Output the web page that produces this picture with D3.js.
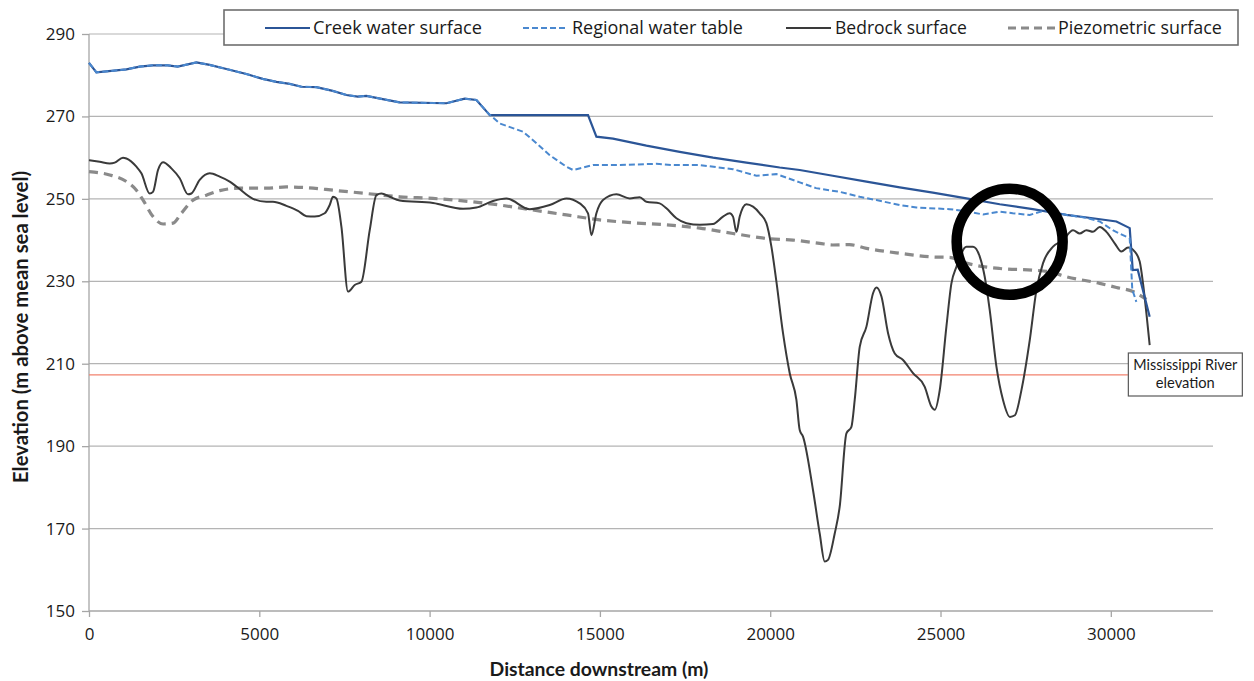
<!DOCTYPE html>
<html>
<head>
<meta charset="utf-8">
<script src="https://cdn.jsdelivr.net/npm/d3@7"></script>
<style>
  body { margin: 0; background: #fff; }
  svg { display: block; }
  text { font-family: Lato, "Open Sans", sans-serif; fill: #1a1a1a; }
</style>
</head>
<body>
<svg id="chart" width="1254" height="681"></svg>
<script>
// Longitudinal profile along the creek: distance downstream (m) vs elevation (m a.m.s.l.)
const xTicks = [0, 5000, 10000, 15000, 20000, 25000, 30000];
const yTicks = [150, 170, 190, 210, 230, 250, 270, 290];

const creekX = [0, 217, 1098, 1489, 1870, 2311, 2604, 3153, 3544, 4034, 4621, 5100, 5502, 5893, 6236, 6677, 7155, 7557, 7889, 8145, 8623, 9122, 10493, 11031, 11374, 11715, 11765, 14651, 14897, 15385, 16365, 17343, 18321, 19301, 20279, 20866, 21836, 22825, 23803, 24775, 25760, 26739, 27708, 28697, 29469, 30165, 30555, 30643, 30790, 31141];
const creekY = [283.0, 280.7, 281.4, 282.1, 282.4, 282.4, 282.1, 283.1, 282.5, 281.5, 280.3, 279.1, 278.4, 277.9, 277.2, 277.1, 276.2, 275.2, 274.8, 275.0, 274.2, 273.4, 273.2, 274.3, 274.0, 270.8, 270.3, 270.3, 265.1, 264.6, 262.9, 261.4, 260.0, 258.8, 257.6, 257.0, 255.6, 254.2, 252.8, 251.5, 250.1, 248.7, 247.5, 246.1, 245.3, 244.5, 242.9, 232.7, 232.8, 221.4];

const tableX = [0, 217, 1098, 1489, 1870, 2311, 2604, 3153, 3544, 4034, 4621, 5100, 5502, 5893, 6236, 6677, 7155, 7557, 7889, 8145, 8623, 9122, 10493, 11031, 11374, 11715, 12059, 12744, 13136, 13527, 14017, 14211, 14798, 15485, 16658, 17147, 17934, 18908, 19595, 20182, 20866, 21347, 22040, 22628, 23119, 23803, 24293, 25270, 25760, 26249, 26739, 27121, 27620, 28108, 28697, 29284, 29674, 30056, 30555, 30630, 30750];
const tableY = [283.0, 280.7, 281.4, 282.1, 282.4, 282.4, 282.1, 283.1, 282.5, 281.5, 280.3, 279.1, 278.4, 277.9, 277.2, 277.1, 276.2, 275.2, 274.8, 275.0, 274.2, 273.4, 273.2, 274.3, 274.0, 270.8, 268.3, 266.3, 263.5, 260.6, 257.8, 257.0, 258.2, 258.2, 258.5, 258.2, 258.2, 257.2, 255.6, 256.0, 254.0, 252.6, 251.7, 250.5, 249.7, 248.5, 247.9, 247.5, 247.0, 246.2, 246.9, 246.5, 246.1, 247.3, 246.1, 245.4, 244.5, 242.4, 240.4, 228.0, 225.0];

const bedrockX = [0, 314, 608, 755, 998, 1098, 1392, 1538, 1782, 1879, 2026, 2173, 2419, 2663, 2907, 3006, 3250, 3544, 3837, 4131, 4328, 4815, 5208, 5402, 5796, 6136, 6383, 6627, 6920, 7067, 7164, 7264, 7411, 7604, 7801, 7998, 8242, 8438, 8585, 8829, 9122, 10100, 10981, 11374, 11861, 12255, 12939, 13527, 14017, 14407, 14651, 14751, 14897, 15091, 15485, 15875, 16169, 16365, 16755, 16952, 17246, 17540, 17934, 18321, 18614, 18811, 18908, 19008, 19105, 19301, 19495, 19692, 19888, 20035, 20182, 20376, 20573, 20769, 20866, 20963, 21257, 21453, 21600, 21697, 21894, 22040, 22237, 22384, 22481, 22628, 22825, 23019, 23119, 23266, 23460, 23657, 23899, 24193, 24537, 24733, 24830, 24977, 25173, 25320, 25467, 25760, 25955, 26152, 26298, 26445, 26642, 26835, 27038, 27185, 27376, 27620, 27817, 28010, 28304, 28597, 28891, 29087, 29284, 29477, 29674, 29871, 30114, 30311, 30505, 30701, 30848, 30945, 31045, 31141];
const bedrockY = [259.4, 259.0, 258.6, 258.8, 260.0, 259.8, 257.8, 256.2, 251.3, 251.7, 257.0, 258.9, 257.4, 255.0, 251.1, 251.3, 254.6, 256.2, 255.4, 254.2, 253.0, 250.0, 249.3, 249.3, 248.3, 247.1, 245.8, 245.7, 246.5, 248.5, 250.5, 250.1, 243.2, 227.5, 229.1, 229.9, 242.4, 250.9, 251.3, 250.5, 249.6, 249.0, 247.6, 247.9, 249.5, 250.1, 247.5, 248.5, 250.1, 248.9, 246.5, 241.2, 246.5, 249.7, 251.1, 250.1, 250.4, 249.3, 248.9, 247.7, 245.3, 244.1, 243.7, 243.9, 245.7, 246.5, 245.7, 242.0, 245.7, 248.7, 248.1, 246.5, 244.1, 238.4, 229.9, 217.4, 207.7, 201.2, 193.9, 192.3, 179.3, 168.8, 162.0, 162.4, 168.8, 175.3, 193.1, 194.7, 201.2, 214.1, 219.0, 227.1, 228.5, 226.3, 217.4, 212.5, 210.9, 207.7, 204.4, 199.6, 198.8, 203.6, 219.0, 229.5, 233.5, 238.4, 238.4, 236.0, 231.1, 223.0, 209.3, 201.2, 197.1, 197.5, 203.6, 215.7, 227.9, 234.4, 238.4, 240.0, 242.4, 241.6, 242.4, 242.0, 243.2, 242.0, 239.2, 237.2, 238.2, 237.2, 234.8, 229.5, 222.2, 214.5];

const piezoX = [0, 608, 1098, 1392, 1587, 1879, 2173, 2467, 2713, 3054, 3447, 3837, 4425, 5208, 5796, 6578, 7164, 8145, 9122, 10100, 12059, 13027, 14017, 14994, 15963, 16952, 17934, 18908, 19888, 20669, 21453, 21836, 22325, 22825, 23803, 24781, 25270, 25760, 26739, 27708, 28206, 28697, 29674, 30165, 30652, 31045];
const piezoY = [256.6, 255.8, 254.2, 252.1, 249.7, 245.7, 243.9, 244.1, 246.5, 249.7, 250.9, 252.0, 252.6, 252.6, 252.9, 252.6, 252.1, 251.3, 250.5, 250.1, 248.5, 247.3, 246.1, 244.9, 244.2, 243.7, 242.9, 241.6, 240.4, 240.0, 239.2, 238.8, 238.9, 238.0, 236.8, 235.9, 235.8, 234.4, 233.1, 232.7, 232.3, 231.1, 229.5, 228.5, 227.5, 225.6];

const riverX = [0, 30500];
const riverY = [207.3, 207.3];

// Highlighted reach (ring drawn around it)
const ringX = [27030];
const ringY = [239.6];

const seriesNames = ["Creek water surface", "Regional water table", "Bedrock surface", "Piezometric surface"];
const riverLabel = ["Mississippi River", "elevation"];

const svg = d3.select("#chart");
const plotL = 89, plotR = 1213, plotT = 34, plotB = 611;

const x = d3.scaleLinear().domain([0, 33000]).range([plotL, plotR]);
const y = d3.scaleLinear().domain([150, 290]).range([plotB, plotT]);

const zip = (xs, ys) => xs.map((v, i) => [v, ys[i]]);

// Scale a label's font so the rendered text spans the given width
function fitWidth(sel, width) {
  const node = sel.node();
  const size = parseFloat(sel.style("font-size"));
  const w = node.getComputedTextLength();
  if (w > 0) sel.style("font-size", (size * width / w).toFixed(2) + "px");
  return sel;
}

// Horizontal gridlines
svg.append("g")
  .selectAll("line")
  .data(yTicks.filter(t => t > 150))
  .join("line")
  .attr("x1", plotL).attr("x2", plotR)
  .attr("y1", d => y(d)).attr("y2", d => y(d))
  .attr("stroke", "#b4b4b4").attr("stroke-width", 1.2);

// Axes
const yAxis = svg.append("g")
  .attr("transform", `translate(${plotL},0)`)
  .call(d3.axisLeft(y).tickValues(yTicks).tickSize(7).tickPadding(7).tickFormat(d3.format("d")));
const xAxis = svg.append("g")
  .attr("transform", `translate(0,${plotB})`)
  .call(d3.axisBottom(x).tickValues(xTicks).tickSize(6).tickPadding(11).tickFormat(d3.format("d")));
[yAxis, xAxis].forEach(g => {
  g.select(".domain").attr("stroke", "#a6a6a6").attr("stroke-width", 1.3);
  g.selectAll(".tick line").attr("stroke", "#a6a6a6").attr("stroke-width", 1.3);
  g.selectAll(".tick text").style("font-family", "'Open Sans', Lato, sans-serif")
    .style("font-size", "17px").attr("fill", "#1a1a1a");
});
yAxis.select(".domain").attr("d", `M0,${plotT}V${plotB}`);
xAxis.select(".domain").attr("d", `M${plotL},0H${plotR}`);

// Axis titles
fitWidth(svg.append("text")
  .attr("x", 599).attr("y", 676)
  .attr("text-anchor", "middle")
  .style("font-size", "16.5px").style("font-weight", "bold")
  .text("Distance downstream (m)"), 219);
fitWidth(svg.append("text")
  .attr("transform", `translate(28,327) rotate(-90)`)
  .attr("text-anchor", "middle")
  .style("font-size", "16.5px").style("font-weight", "bold")
  .text("Elevation (m above mean sea level)"), 312);

// River level reference line
const line = d3.line().x(d => x(d[0])).y(d => y(d[1]));
const smooth = d3.line().x(d => x(d[0])).y(d => y(d[1])).curve(d3.curveMonotoneX);

svg.append("path")
  .datum(zip(riverX, riverY))
  .attr("d", line)
  .attr("fill", "none").attr("stroke", "#f2826e").attr("stroke-width", 1.3);

// Profiles
svg.append("path").datum(zip(piezoX, piezoY)).attr("d", smooth)
  .attr("fill", "none").attr("stroke", "#8a8a8a").attr("stroke-width", 3.2)
  .attr("stroke-dasharray", "9,6");
svg.append("path").datum(zip(bedrockX, bedrockY)).attr("d", smooth)
  .attr("fill", "none").attr("stroke", "#3a3a3a").attr("stroke-width", 2);
svg.append("path").datum(zip(creekX, creekY)).attr("d", line)
  .attr("fill", "none").attr("stroke", "#2b5597").attr("stroke-width", 2.2);
svg.append("path").datum(zip(tableX, tableY)).attr("d", line)
  .attr("fill", "none").attr("stroke", "#4a88cf").attr("stroke-width", 2)
  .attr("stroke-dasharray", "6,3");

// Ring around the highlighted reach
svg.append("circle")
  .attr("cx", x(ringX[0])).attr("cy", y(ringY[0])).attr("r", 53)
  .attr("fill", "none").attr("stroke", "#000").attr("stroke-width", 10.5);

// River label box
const lb = svg.append("g").attr("transform", `translate(${x(riverX[1]) + 0.5},353)`);
lb.append("rect").attr("width", 114).attr("height", 43)
  .attr("fill", "#fff").attr("stroke", "#595959").attr("stroke-width", 1.2);
const riverWidths = [104, 59];
lb.selectAll("text").data(riverLabel).join("text")
  .attr("x", 57).attr("y", (d, i) => 17 + i * 18)
  .attr("text-anchor", "middle")
  .style("font-size", "13px")
  .text(d => d)
  .each(function(d, i) { fitWidth(d3.select(this), riverWidths[i]); });

// Legend
const legend = svg.append("g");
legend.append("rect")
  .attr("x", 224).attr("y", 10).attr("width", 1014).attr("height", 35)
  .attr("fill", "#fff").attr("stroke", "#6e6e6e").attr("stroke-width", 1.6);
const legendItems = [
  { name: seriesNames[0], x0: 265, x1: 310, tx: 313, tw: 169, color: "#2b5597", width: 2.2, dash: null },
  { name: seriesNames[1], x0: 523, x1: 568, tx: 572, tw: 171, color: "#4a88cf", width: 2, dash: "6,3" },
  { name: seriesNames[2], x0: 786, x1: 831, tx: 835, tw: 132, color: "#3a3a3a", width: 2, dash: null },
  { name: seriesNames[3], x0: 1008, x1: 1055, tx: 1058, tw: 164, color: "#8a8a8a", width: 3, dash: "8,5" }
];
legendItems.forEach(it => {
  legend.append("line")
    .attr("x1", it.x0).attr("x2", it.x1).attr("y1", 28).attr("y2", 28)
    .attr("stroke", it.color).attr("stroke-width", it.width)
    .attr("stroke-dasharray", it.dash);
  fitWidth(legend.append("text")
    .attr("x", it.tx).attr("y", 34)
    .style("font-family", "'Open Sans', Lato, sans-serif")
    .style("font-size", "17px")
    .text(it.name), it.tw);
});
</script>
</body>
</html>
